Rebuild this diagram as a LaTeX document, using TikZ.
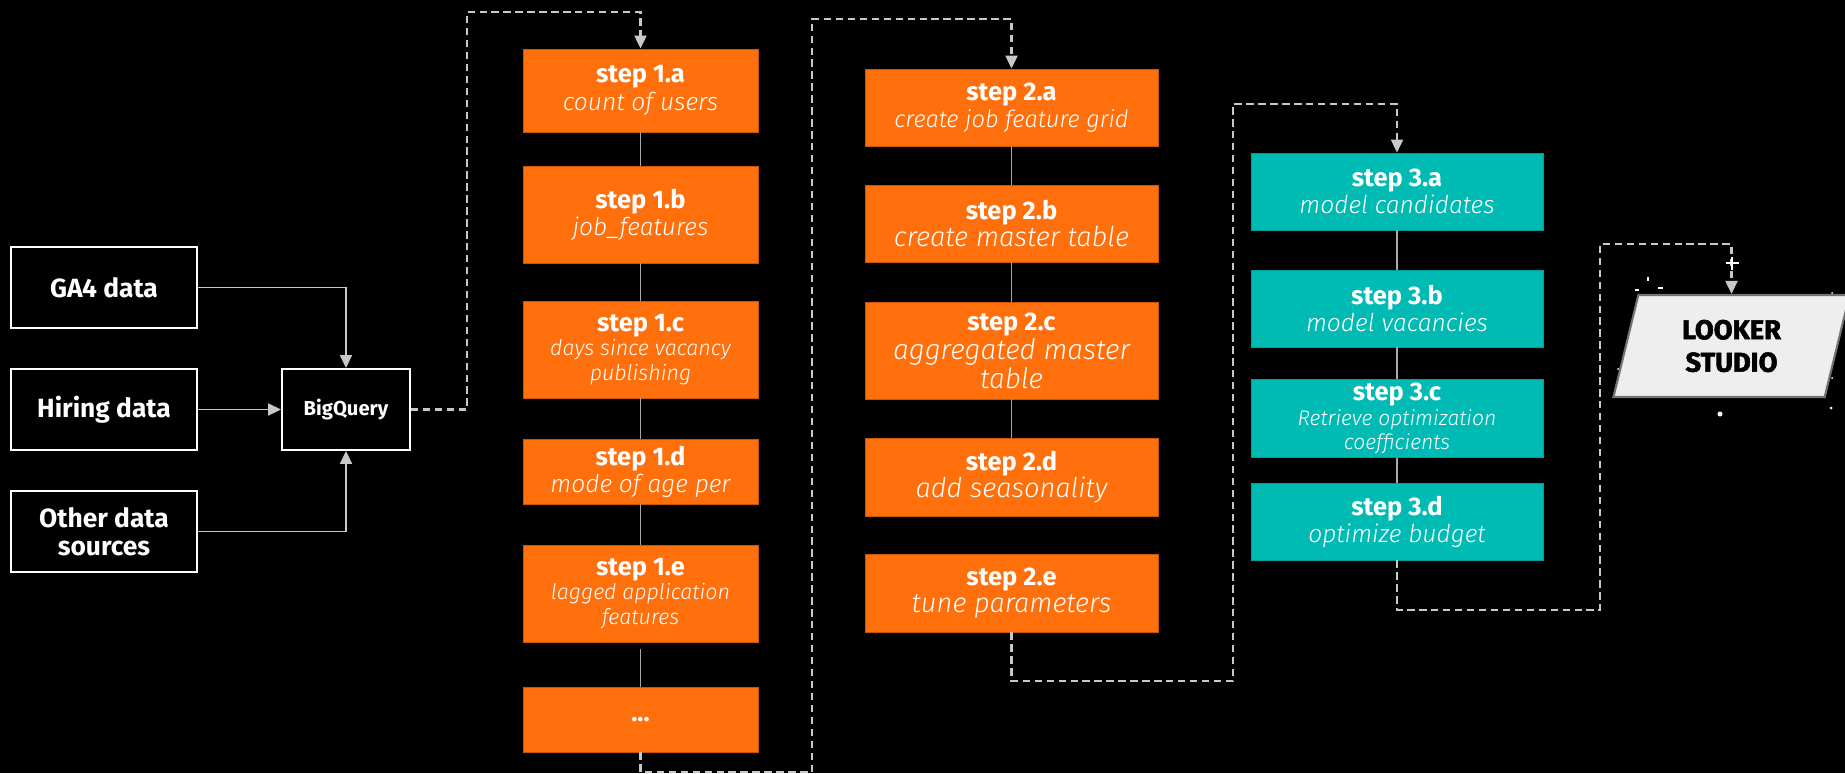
\documentclass[tikz,border=0pt]{standalone}
\usepackage{fontspec}
\setmainfont{Fira Sans}
\newfontfamily\descfont{Fira Sans Light Italic}
\newfontfamily\heavyfont{Fira Sans Bold}[FakeBold=2]
\usetikzlibrary{arrows.meta,shapes.geometric}

\definecolor{stepor}{HTML}{FF6F0C}
\definecolor{stepedge}{HTML}{C95508}
\definecolor{stepte}{HTML}{00BAB4}
\definecolor{linkgr}{HTML}{A8A8A8}
\definecolor{flowgr}{HTML}{C8C8C8}
\definecolor{lsfill}{HTML}{EEEEEE}

% italic description line under a step title
\newcommand{\dsc}[2]{{\descfont\mdseries\upshape\fontsize{#1}{#1}\selectfont #2}}

\begin{document}
\begin{tikzpicture}[>={Triangle[length=2.6mm,width=2.4mm]},
  srcbox/.style={draw=white,line width=1.1pt,minimum width=3.72cm,minimum height=1.62cm,align=center,text=white,font=\fontsize{15}{16}\selectfont\bfseries},
  taskA/.style={draw=stepedge,line width=0.5pt,fill=stepor,text=white,align=center,inner sep=2pt,font=\fontsize{14.5}{15.5}\selectfont\bfseries},
  taskB/.style={taskA,draw=stepte!85!black,fill=stepte},
  link/.style={draw=linkgr,line width=1.1pt},
  feed/.style={draw=flowgr,line width=1.1pt,->},
  flow/.style={draw=flowgr,line width=1.2pt,dash pattern=on 4.2pt off 2.6pt,->}]
\useasboundingbox (0,0) rectangle (36.9,-15.46);
\fill[black] (0,0) rectangle (36.9,-15.46);

% data sources
\node[srcbox] (ga4) at (2.08,-5.75) {GA4 data};
\node[srcbox] (hire) at (2.08,-8.19) {Hiring data};
\node[srcbox] (oth) at (2.08,-10.63) {Other data\\sources};
\node[srcbox,minimum width=2.56cm,font=\fontsize{11.5}{13}\selectfont\bfseries] (bq) at (6.92,-8.19) {BigQuery};
\draw[feed] (ga4.east)-|(bq.north);
\draw[feed] (hire.east)--(bq.west);
\draw[feed] (oth.east)-|(bq.south);

% step 1
\node[taskA,minimum width=4.7cm,minimum height=1.66cm] (a1) at (12.81,-1.81) {step 1.a\\\dsc{14}{count of users}};
\node[taskA,minimum width=4.7cm,minimum height=1.94cm] (a2) at (12.81,-4.29) {step 1.b\\\dsc{14}{job\_features}};
\node[taskA,minimum width=4.7cm,minimum height=1.94cm] (a3) at (12.81,-6.99) {step 1.c\\[-1.5pt]\dsc{12.2}{days since vacancy}\\[-1.5pt]\dsc{12.2}{publishing}};
\node[taskA,minimum width=4.7cm,minimum height=1.30cm] (a4) at (12.81,-9.43) {step 1.d\\\dsc{14}{mode of age per}};
\node[taskA,minimum width=4.7cm,minimum height=1.94cm] (a5) at (12.81,-11.87) {step 1.e\\[-1.5pt]\dsc{12.2}{lagged application}\\[-1.5pt]\dsc{12.2}{features}};
\node[taskA,minimum width=4.7cm,minimum height=1.30cm] (a6) at (12.81,-14.39) {...};
\draw[link] (a1.south)--(a2.north);
\draw[link] (a2.south)--(a3.north);
\draw[link] (a3.south)--(a4.north);
\draw[link] (a4.south)--(a5.north);
\draw[link,shorten <=1.4mm] (a5.south)--(a6.north);

% step 2
\node[taskA,minimum width=5.86cm,minimum height=1.54cm] (b1) at (20.23,-2.15) {step 2.a\\\dsc{13.5}{create job feature grid}};
\node[taskA,minimum width=5.86cm,minimum height=1.54cm] (b2) at (20.23,-4.47) {step 2.b\\\dsc{15.6}{create master table}};
\node[taskA,minimum width=5.86cm,minimum height=1.94cm] (b3) at (20.23,-7.01) {step 2.c\\[1pt]\dsc{16}{aggregated master}\\[1pt]\dsc{16}{table}};
\node[taskA,minimum width=5.86cm,minimum height=1.56cm] (b4) at (20.23,-9.54) {step 2.d\\\dsc{15.5}{add seasonality}};
\node[taskA,minimum width=5.86cm,minimum height=1.56cm] (b5) at (20.23,-11.86) {step 2.e\\\dsc{15.5}{tune parameters}};
\draw[link] (b1.south)--(b2.north);
\draw[link] (b2.south)--(b3.north);
\draw[link] (b3.south)--(b4.north);

% step 3
\node[taskB,minimum width=5.84cm,minimum height=1.54cm] (c1) at (27.94,-3.83) {step 3.a\\\dsc{14}{model candidates}};
\node[taskB,minimum width=5.84cm,minimum height=1.54cm] (c2) at (27.94,-6.17) {step 3.b\\\dsc{14}{model vacancies}};
\node[taskB,minimum width=5.84cm,minimum height=1.54cm] (c3) at (27.94,-8.37) {step 3.c\\[-1.5pt]\dsc{12}{Retrieve optimization}\\[-1.5pt]\dsc{12}{coefficients}};
\node[taskB,minimum width=5.84cm,minimum height=1.54cm] (c4) at (27.94,-10.43) {step 3.d\\\dsc{14}{optimize budget}};
\draw[link] (c1.south)--(c2.north);
\draw[link] (c2.south)--(c3.north);
\draw[link] (c3.south)--(c4.north);

% dashboard
\node[trapezium,trapezium left angle=77,trapezium right angle=103,trapezium stretches=true,draw=black!55,line width=1.2pt,fill=lsfill,minimum width=4.74cm,minimum height=2.04cm,align=center,font=\fontsize{15.5}{18.5}\selectfont\heavyfont] (ls) at (34.63,-6.92) {LOOKER\\STUDIO};

% hand-offs between stages
\coordinate (j1) at (9.34,-0.24);
\coordinate (j2) at (16.24,-15.44);
\coordinate (j3) at (16.24,-0.38);
\coordinate (j4) at (24.66,-13.62);
\coordinate (j5) at (24.66,-2.08);
\coordinate (j6) at (32.00,-12.20);
\coordinate (j7) at (32.00,-4.88);
\draw[flow] (bq.east)-|(j1)-|(a1.north);
\draw[flow] (a6.south)|-(j2)--(j3)-|(b1.north);
\draw[flow] (b5.south)|-(j4)--(j5)-|(c1.north);
\draw[flow] (c4.south)|-(j6)--(j7)-|(ls.north);

% stray marks round the dashboard
\draw[white,line width=1.2pt] (34.52,-5.26)--(34.77,-5.26) (34.64,-5.13)--(34.64,-5.40);
\draw[white,line width=1pt] (32.96,-5.53)--(32.96,-5.62) (32.70,-5.80)--(32.78,-5.80) (33.16,-5.76)--(33.26,-5.76);
\fill[white] (34.40,-8.28) circle (0.05) (36.62,-8.16) circle (0.03) (36.64,-5.86) circle (0.02) (36.64,-7.56) circle (0.02) (32.36,-7.38) circle (0.02);
\end{tikzpicture}
\end{document}
